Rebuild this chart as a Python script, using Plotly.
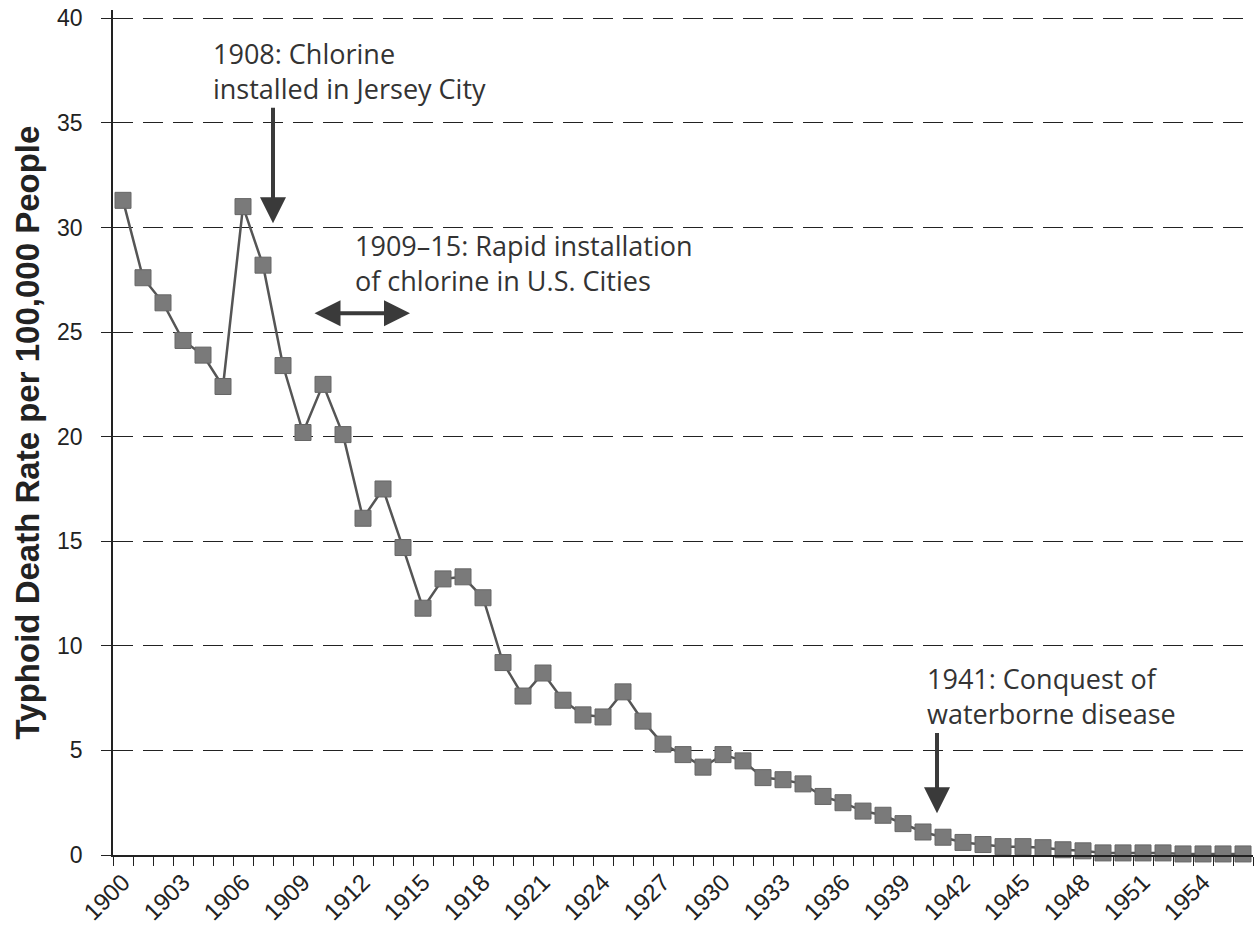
import plotly.graph_objects as go

years = list(range(1900, 1957))
death_rate = [31.3, 27.6, 26.4, 24.6, 23.9, 22.4, 31.0, 28.2, 23.4, 20.2,
              22.5, 20.1, 16.1, 17.5, 14.7, 11.8, 13.2, 13.3, 12.3, 9.2,
              7.6, 8.7, 7.4, 6.7, 6.6, 7.8, 6.4, 5.3, 4.8, 4.2,
              4.8, 4.5, 3.7, 3.6, 3.4, 2.8, 2.5, 2.1, 1.9, 1.5,
              1.1, 0.85, 0.6, 0.5, 0.4, 0.4, 0.35, 0.25, 0.2, 0.1,
              0.1, 0.1, 0.1, 0.05, 0.05, 0.05, 0.05]
label_years = list(range(1900, 1955, 3))
y_ticks = [0, 5, 10, 15, 20, 25, 30, 35, 40]

fig = go.Figure()
fig.add_trace(go.Scatter(
    x=years, y=death_rate, mode="lines+markers",
    line=dict(color="#555555", width=2.5),
    marker=dict(symbol="square", size=16, color="#7a7a7a",
                line=dict(color="#666666", width=1)),
    showlegend=False, cliponaxis=False,
))

ann_font = dict(family="'Open Sans', 'Noto Sans', sans-serif", size=27, color="#333333")
arrow_col = "#3a3a3a"

annotations = [
    dict(x=1904.4, y=37.5, xref="x", yref="y", text="1908: Chlorine<br>installed in Jersey City",
         showarrow=False, xanchor="left", yanchor="middle", align="left", font=ann_font),
    dict(x=1911.5, y=28.3, xref="x", yref="y", text="1909\u201315: Rapid installation<br>of chlorine in U.S. Cities",
         showarrow=False, xanchor="left", yanchor="middle", align="left", font=ann_font),
    dict(x=1940.1, y=7.6, xref="x", yref="y", text="1941: Conquest of<br>waterborne disease",
         showarrow=False, xanchor="left", yanchor="middle", align="left", font=ann_font),
    # arrows
    dict(x=1907.5, y=30.2, ax=1907.5, ay=35.8, xref="x", yref="y", axref="x", ayref="y",
         text="", showarrow=True, arrowhead=2, arrowsize=1.3, arrowwidth=4, arrowcolor=arrow_col),
    dict(x=1914.35, y=25.9, ax=1909.5, ay=25.9, xref="x", yref="y", axref="x", ayref="y",
         text="", showarrow=True, arrowhead=2, startarrowhead=2, arrowside="end+start",
         arrowsize=1.3, startarrowsize=1.3, arrowwidth=4, arrowcolor=arrow_col),
    dict(x=1940.7, y=2.0, ax=1940.7, ay=5.9, xref="x", yref="y", axref="x", ayref="y",
         text="", showarrow=True, arrowhead=2, arrowsize=1.3, arrowwidth=4, arrowcolor=arrow_col),
]

fig.update_layout(
    width=1254, height=933,
    margin=dict(l=113, r=1, t=10, b=78),
    paper_bgcolor="white", plot_bgcolor="white",
    font=dict(family="Liberation Sans, Arial, sans-serif", color="#222222"),
    annotations=annotations,
    xaxis=dict(
        range=[1899.5, 1956.5], tickmode="array", tickvals=label_years,
        ticktext=[str(v) for v in label_years], tickangle=-45,
        ticks="", showgrid=False, zeroline=False, automargin=False,
        showline=True, linecolor="#222222", linewidth=1.5, ticklabelstandoff=2,
        tickfont=dict(size=24, family="Liberation Sans, Arial, sans-serif", color="#222222"),
        minor=dict(ticks="outside", dtick=1, tick0=1899.5, ticklen=9, tickcolor="#222222",
                   tickwidth=1.3, showgrid=False),
    ),
    yaxis=dict(
        range=[0, 40.4], tickvals=y_ticks, ticks="outside", ticklen=10, tickcolor="#222222",
        ticklabelstandoff=14, automargin=False, ticklabeloverflow="allow",
        showgrid=True, gridcolor="#222222", griddash="20px,10px", gridwidth=1.3,
        zeroline=False, showline=True, linecolor="#222222", linewidth=1.5,
        tickfont=dict(size=23, family="Liberation Sans, Arial, sans-serif", color="#222222"),
        title=dict(text="<b>Typhoid Death Rate per 100,000 People</b>", standoff=8,
                   font=dict(size=33, family="Liberation Sans, Arial, sans-serif", color="#222222")),
    ),
)

fig.write_html("out.html", config={"displayModeBar": False},
               post_script="document.body.style.margin='0';")
